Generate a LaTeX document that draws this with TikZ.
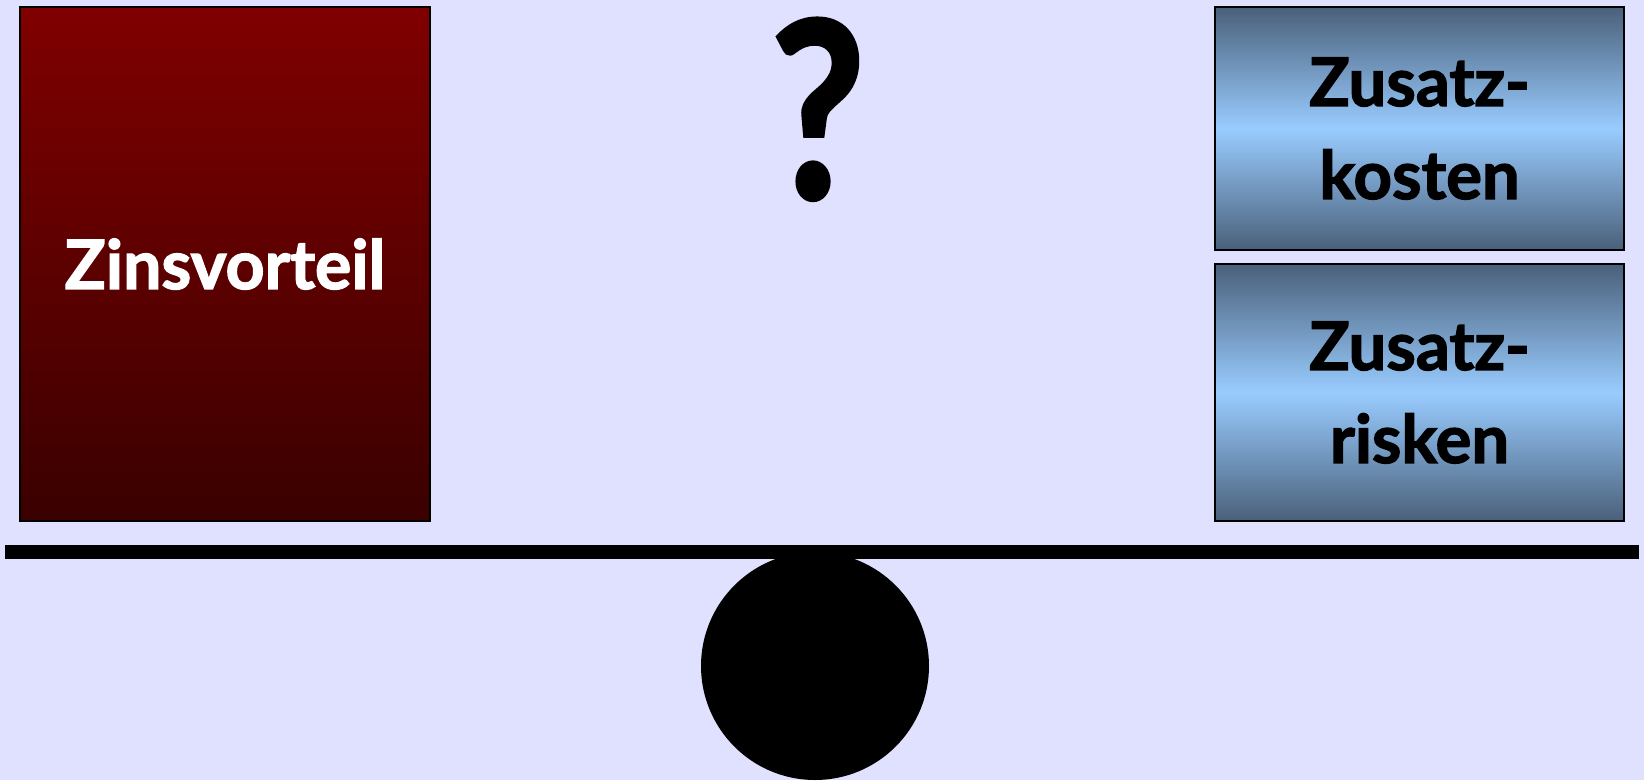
\documentclass[tikz,border=0pt]{standalone}
\usepackage{fontspec}
\setmainfont{Lato}
\newfontfamily\heavy{Lato}[BoldFeatures={FakeBold=2}]
\definecolor{bgc}{RGB}{224,224,255}
\definecolor{redtop}{RGB}{128,0,0}
\definecolor{redbot}{RGB}{58,0,0}
\definecolor{blueedge}{RGB}{74,96,122}
\definecolor{bluemid}{RGB}{153,204,255}
\begin{document}
\begin{tikzpicture}[x=1pt,y=-1pt,
  redbox/.style={draw=black, line width=2pt, top color=redtop, bottom color=redbot,
    minimum width=410pt, minimum height=514pt, inner sep=0pt, text=white,
    font=\heavy\bfseries\fontsize{68}{68}\selectfont},
  bluebox/.style={draw=black, line width=2pt, top color=blueedge, bottom color=blueedge,
    middle color=bluemid, minimum width=409pt, minimum height=243pt, inner sep=0pt,
    align=center, text=black, font=\heavy\bfseries\fontsize{67}{93}\selectfont}]
\fill[bgc] (0,0) rectangle (1644,780);
\useasboundingbox (0,0) rectangle (1644,780);
\node[redbox] (zins) at (225,264) {Zinsvorteil};
\node[bluebox] (kosten) at (1419.5,128.5) {Zusatz-\\kosten};
\node[bluebox, minimum height=257pt] (risken) at (1419.5,392.5) {Zusatz-\\risken};
\node[fill=black, minimum width=1634pt, minimum height=14pt, inner sep=0pt] (bar) at (822,552) {};
\node[circle, fill=black, minimum size=228pt, inner sep=0pt] (fulcrum) at (815,666) {};
\node[anchor=base, inner sep=0pt, xscale=0.82, yscale=0.98, font=\heavy\bfseries\fontsize{250}{250}\selectfont] (q) at (818,198) {?};
\end{tikzpicture}
\end{document}
